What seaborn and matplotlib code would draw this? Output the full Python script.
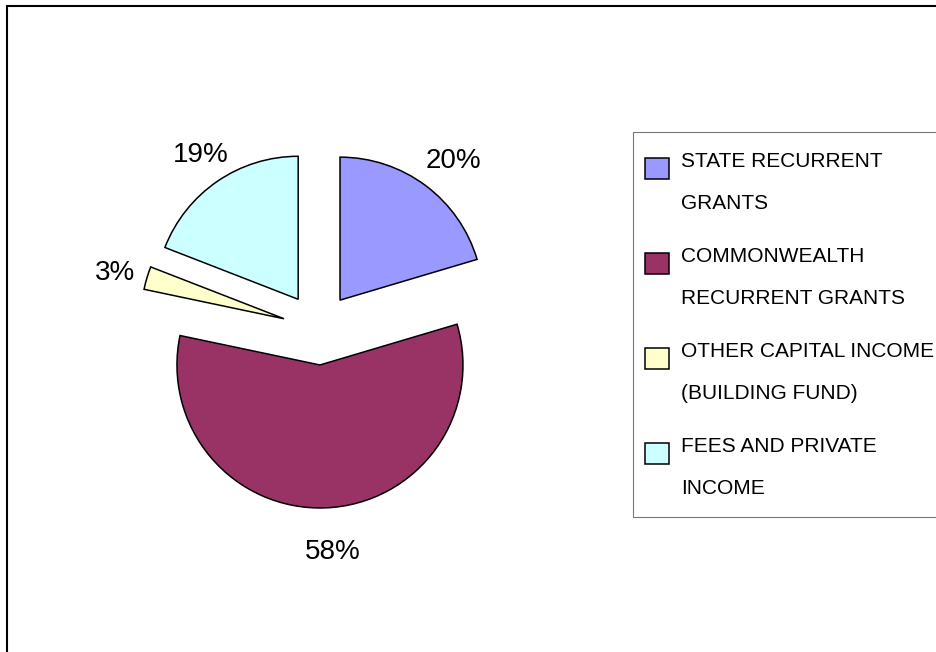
import matplotlib
matplotlib.use("Agg")
import matplotlib.pyplot as plt
from matplotlib.lines import Line2D
import seaborn as sns

# data
categories = ["STATE RECURRENT\nGRANTS",
              "COMMONWEALTH\nRECURRENT GRANTS",
              "OTHER CAPITAL INCOME\n(BUILDING FUND)",
              "FEES AND PRIVATE\nINCOME"]
shares = [20.4, 57.9, 2.6, 19.1]
colors = ["#9999FF", "#993366", "#FFFFCC", "#CCFFFF"]

sns.set_style("white")
plt.rcParams["font.family"] = ["Liberation Sans", "DejaVu Sans"]

W, H = 936, 652
fig = plt.figure(figsize=(W / 100, H / 100), dpi=100)
ax = fig.add_axes([0, 0, 1, 1])

wedges, texts, pcts = ax.pie(
    shares, colors=colors, startangle=90, counterclock=False,
    center=(318.5, H - 329), radius=143, explode=[36] * 4,
    autopct="%1.0f%%", pctdistance=1.27,
    wedgeprops=dict(edgecolor="black", linewidth=1.1),
    textprops=dict(fontsize=20, color="black"))

# nudge the percentage labels a bit (Excel-like placement)
for t in pcts:
    x, y = t.get_position()
    t.set_position((x + 5, y - 6))

ax.set_xlim(0, W)
ax.set_ylim(0, H)
ax.set_aspect("equal")
ax.axis("off")

leg = ax.legend(wedges, categories, loc="upper left",
                bbox_to_anchor=(633 / W, 1 - 132 / H),
                bbox_transform=fig.transFigure, borderaxespad=0,
                fontsize=15, labelcolor="black", frameon=True, fancybox=False,
                borderpad=0.94, handlelength=1.15, handleheight=1.15,
                handletextpad=0.2, labelspacing=1.62)
leg.get_frame().set_edgecolor("#555555")
leg.get_frame().set_linewidth(0.8)
for t in leg.get_texts():
    t.set_linespacing(2.55)
for p in leg.get_patches():
    p.set_x(p.get_x() - 5.4)
    p.set_y(p.get_y() + 10)

# outer chart border (left and top visible)
fig.add_artist(Line2D([7.5 / W, 7.5 / W], [0, 1 - 6 / H], color="black",
                      linewidth=1.5, transform=fig.transFigure))
fig.add_artist(Line2D([7.5 / W, 1], [1 - 6 / H, 1 - 6 / H], color="black",
                      linewidth=1.5, transform=fig.transFigure))

fig.savefig("out.png", dpi=100)
